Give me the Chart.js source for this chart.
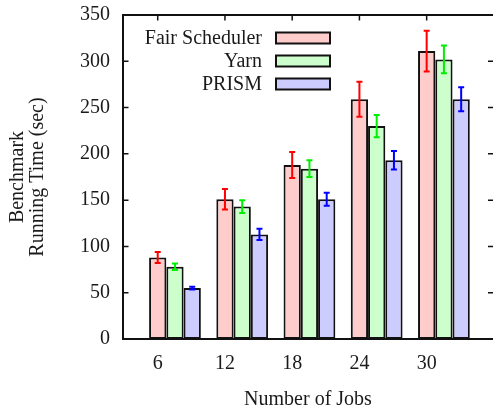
<!DOCTYPE html>
<html>
<head>
<meta charset="utf-8">
<script src="https://cdn.jsdelivr.net/npm/chart.js@4.4.1/dist/chart.umd.min.js"></script>
<style>
  html, body { margin: 0; padding: 0; background: #fff; }
  #wrap { width: 493px; height: 411px; }
</style>
</head>
<body>
<div id="wrap"><canvas id="jobsChart" width="493" height="411"></canvas></div>
<script>
const categories = ["6", "12", "18", "24", "30"];
const seriesNames = ["Fair Scheduler", "Yarn", "PRISM"];
const fairValues = [88, 151, 188, 259, 311];
const fairErrors = [6, 11, 14, 19, 22];
const yarnValues = [78, 143, 184, 230, 302];
const yarnErrors = [3.5, 7, 9, 12, 15];
const prismValues = [55, 113, 151, 193, 259];
const prismErrors = [1.5, 6, 7, 10, 13];
const yTicks = [0, 50, 100, 150, 200, 250, 300, 350];

const fills = ["#ffcccc", "#ccffcc", "#ccccff"];
const errColors = ["#ff0000", "#00ee00", "#0000ff"];
const groupWidth = 0.77;
const font = "'Liberation Serif', 'Times New Roman', serif";

function toPoints(values) {
    return values.map((v, i) => ({ x: i, y: v }));
}

const datasets = [fairValues, yarnValues, prismValues].map((vals, k) => ({
    label: seriesNames[k],
    data: toPoints(vals),
    errors: [fairErrors, yarnErrors, prismErrors][k],
    backgroundColor: fills[k],
    borderColor: "#111",
    borderWidth: 2,
    borderSkipped: false,
    errColor: errColors[k],
    categoryPercentage: groupWidth,
    barPercentage: 1.0
}));

const framePlugin = {
    id: "frame",
    afterDatasetsDraw(chart) {
        const { ctx, chartArea: a, scales } = chart;
        ctx.save();
        ctx.strokeStyle = "#111";
        ctx.lineWidth = 2;
        ctx.beginPath();
        ctx.moveTo(a.right, a.top);
        ctx.lineTo(a.left, a.top);
        ctx.lineTo(a.left, a.bottom);
        ctx.lineTo(a.right, a.bottom);
        ctx.stroke();
        // inward ticks
        ctx.lineWidth = 1.5;
        ctx.beginPath();
        scales.y.ticks.forEach(t => {
            const py = scales.y.getPixelForValue(t.value);
            if (t.value === 0 || t.value === 350) return;
            ctx.moveTo(a.left, py); ctx.lineTo(a.left + 5.5, py);
            ctx.moveTo(a.right, py); ctx.lineTo(a.right - 5, py);
        });
        scales.x.ticks.forEach(t => {
            const px = scales.x.getPixelForValue(t.value);
            ctx.moveTo(px, a.top); ctx.lineTo(px, a.top + 5.5);
        });
        ctx.stroke();

        // error bars
        chart.data.datasets.forEach((ds, k) => {
            const meta = chart.getDatasetMeta(k);
            ctx.strokeStyle = ds.errColor;
            ctx.lineWidth = 2;
            meta.data.forEach((bar, i) => {
                const v = ds.data[i].y, e = ds.errors[i];
                const y1 = scales.y.getPixelForValue(v + e);
                const y2 = scales.y.getPixelForValue(v - e);
                const cap = 3;
                ctx.beginPath();
                ctx.moveTo(bar.x, y1); ctx.lineTo(bar.x, y2);
                ctx.moveTo(bar.x - cap, y1); ctx.lineTo(bar.x + cap, y1);
                ctx.moveTo(bar.x - cap, y2); ctx.lineTo(bar.x + cap, y2);
                ctx.stroke();
            });
        });
        ctx.restore();
    },
    afterDraw(chart) {
        const { ctx } = chart;
        ctx.save();
        ctx.font = "20px " + font;
        ctx.textAlign = "right";
        ctx.textBaseline = "middle";
        chart.data.datasets.forEach((ds, k) => {
            const cy = 38 + k * 23;
            ctx.fillStyle = "#1a1a1a";
            ctx.fillText(ds.label, 262, cy + 1);
            ctx.fillStyle = ds.backgroundColor;
            ctx.fillRect(276, cy - 5.5, 54, 11);
            ctx.strokeStyle = "#111";
            ctx.lineWidth = 2;
            ctx.strokeRect(276, cy - 5.5, 54, 11);
        });
        ctx.restore();
    }
};

new Chart(document.getElementById("jobsChart"), {
    type: "bar",
    data: { datasets },
    options: {
        responsive: false,
        animation: false,
        layout: { padding: { top: 15, right: 0, left: 0, bottom: 0 } },
        plugins: { legend: { display: false }, tooltip: { enabled: false } },
        scales: {
            x: {
                type: "linear",
                offset: false,
                min: -0.773,
                max: 4.73,
                grid: { display: false, drawTicks: false },
                border: { display: false },
                afterBuildTicks(scale) {
                    scale.ticks = categories.map((c, i) => ({ value: i - groupWidth / 3 }));
                },
                ticks: {
                    padding: 13,
                    color: "#1a1a1a",
                    font: { family: font, size: 20 },
                    callback: (v, i) => categories[i]
                },
                title: {
                    display: true,
                    text: "Number of Jobs",
                    color: "#1a1a1a",
                    font: { family: font, size: 20, lineHeight: 1 },
                    padding: { top: 2, bottom: 1 }
                },
                afterFit(scale) {
                    scale.height = 72;
                    scale.paddingLeft = 0;
                    scale.paddingRight = 0;
                }
            },
            y: {
                min: 0,
                max: 350,
                grid: { display: false, drawTicks: false },
                border: { display: false },
                afterBuildTicks(scale) {
                    scale.ticks = yTicks.map(v => ({ value: v }));
                },
                ticks: {
                    padding: 13,
                    color: "#1a1a1a",
                    font: { family: font, size: 20 }
                },
                title: {
                    display: true,
                    text: ["Benchmark", "Running Time (sec)"],
                    color: "#1a1a1a",
                    font: { family: font, size: 20, lineHeight: 1 },
                    padding: { top: 8, bottom: 0 }
                },
                afterFit(scale) {
                    scale.width = 123;
                    scale.paddingTop = 0;
                    scale.paddingBottom = 0;
                }
            }
        }
    },
    plugins: [framePlugin]
});
</script>
</body>
</html>
